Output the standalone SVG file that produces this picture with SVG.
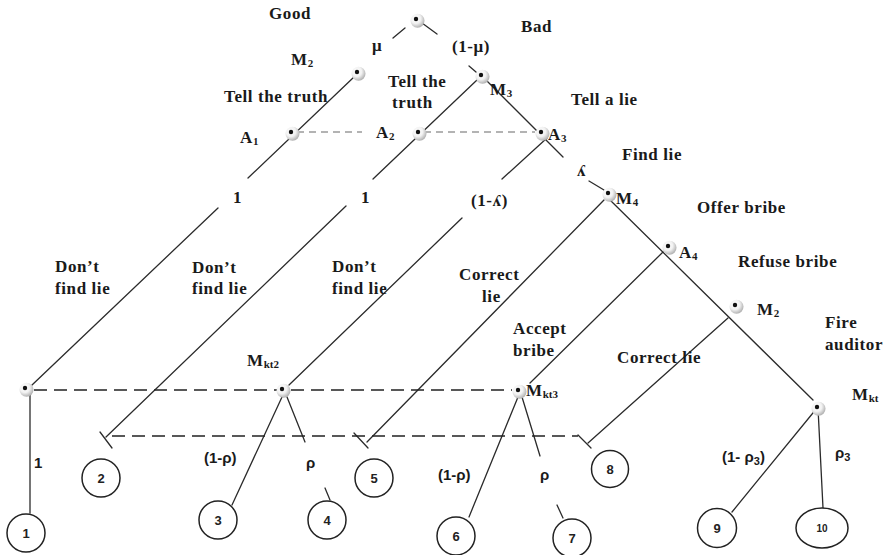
<svg xmlns="http://www.w3.org/2000/svg" width="889" height="555" viewBox="0 0 889 555">
  <style>
    .edge { stroke: #2b2b2b; stroke-width: 1.3; fill: none; stroke-linecap: round; }
    .info { stroke: #9a9a9a; stroke-width: 1.6; stroke-dasharray: 7 5; fill: none; }
    .info2 { stroke: #222; stroke-width: 1.6; stroke-dasharray: 13 7; fill: none; }
    .lbl { font-family: "Liberation Serif", "Times New Roman", serif; font-weight: bold; font-size: 17px; letter-spacing: 0.6px; fill: #1a1a1a; }
    .prob { font-family: "Liberation Sans", Arial, sans-serif; font-weight: bold; font-size: 15px; fill: #1a1a1a; }
    .leaf { fill: #fff; stroke: #222; stroke-width: 1.5; }
    .num { font-family: "Liberation Sans", Arial, sans-serif; font-weight: bold; font-size: 13px; fill: #222; text-anchor: middle; }
    .sub { font-size: 11px; letter-spacing: 0; }
  </style>
  <defs>
    <radialGradient id="halo" cx="0.38" cy="0.35" r="0.7">
      <stop offset="0" stop-color="#ffffff"/>
      <stop offset="0.5" stop-color="#f2f2f2"/>
      <stop offset="1" stop-color="#a9a9a9"/>
    </radialGradient>
    <g id="dot">
      <circle cx="1.5" cy="1.8" r="7" fill="url(#halo)"/>
      <circle cx="0" cy="0" r="2.2" fill="#111"/>
    </g>
  </defs>
  <rect width="889" height="555" fill="#fff"/>

  <!-- connectors -->
  <g id="connectors">
    <line class="edge" x1="393" y1="38" x2="405" y2="28"/>
    <line class="edge" x1="422" y1="23" x2="437" y2="34"/>
    <line class="edge" x1="469" y1="66" x2="476" y2="72"/>
    <line class="edge" x1="354" y1="77" x2="248" y2="178"/>
    <line class="edge" x1="218" y1="208" x2="32" y2="385"/>
    <line class="edge" x1="477" y1="80" x2="373" y2="179"/>
    <line class="edge" x1="346" y1="206" x2="106" y2="437"/>
    <line class="edge" x1="484" y1="78" x2="563" y2="157"/>
    <line class="edge" x1="589" y1="181" x2="604" y2="190"/>
    <line class="edge" x1="547" y1="138" x2="502" y2="179"/>
    <line class="edge" x1="462" y1="218" x2="289" y2="385"/>
    <line class="edge" x1="604" y1="200" x2="367" y2="442"/>
    <line class="edge" x1="610" y1="200" x2="813" y2="400"/>
    <line class="edge" x1="663" y1="252" x2="530" y2="383"/>
    <line class="edge" x1="728" y1="318" x2="588" y2="443"/>
    <line class="edge" x1="282" y1="397" x2="232" y2="505"/>
    <line class="edge" x1="287" y1="397" x2="305" y2="442"/>
    <line class="edge" x1="325" y1="488" x2="330" y2="500"/>
    <line class="edge" x1="518" y1="397" x2="469" y2="517"/>
    <line class="edge" x1="522" y1="397" x2="540" y2="456"/>
    <line class="edge" x1="557" y1="505" x2="563" y2="518"/>
    <line class="edge" x1="817" y1="408" x2="732" y2="512"/>
    <line class="edge" x1="818" y1="408" x2="823" y2="508"/>
    <line class="edge" x1="30" y1="395" x2="30" y2="513"/>
    <!-- end ticks -->
    <line class="edge" x1="100" y1="432" x2="112" y2="448"/>
    <line class="edge" x1="354" y1="433" x2="368" y2="448"/>
    <line class="edge" x1="578" y1="435" x2="591" y2="448"/>
    <!-- information sets -->
    <line class="info" x1="297" y1="132" x2="362" y2="132"/>
    <line class="info" x1="424" y1="132" x2="535" y2="132"/>
    <line class="info2" x1="34" y1="390" x2="277" y2="390"/>
    <line class="info2" x1="291" y1="390" x2="512" y2="390"/>
    <line class="info2" x1="112" y1="436" x2="578" y2="436"/>

    <!-- branch labels -->
    <text class="lbl" x="372" y="51">μ</text>
    <text class="lbl" x="452" y="52">(1-μ)</text>
    <text class="lbl" x="224" y="102">Tell the truth</text>
    <text class="lbl" x="388" y="87">Tell the</text>
    <text class="lbl" x="392" y="108">truth</text>
    <text class="lbl" x="571" y="105">Tell a lie</text>
    <text class="lbl" x="622" y="160">Find lie</text>
    <text class="lbl" x="577" y="176">ʎ</text>
    <text class="lbl" x="233" y="203">1</text>
    <text class="lbl" x="361" y="203">1</text>
    <text class="lbl" x="471" y="206">(1-ʎ)</text>
    <text class="lbl" x="697" y="213">Offer bribe</text>
    <text class="lbl" x="738" y="267">Refuse bribe</text>
    <text class="lbl" x="55" y="272">Don’t</text>
    <text class="lbl" x="55" y="294">find lie</text>
    <text class="lbl" x="192" y="273">Don’t</text>
    <text class="lbl" x="192" y="294">find lie</text>
    <text class="lbl" x="332" y="272">Don’t</text>
    <text class="lbl" x="332" y="294">find lie</text>
    <text class="lbl" x="459" y="280">Correct</text>
    <text class="lbl" x="482" y="302">lie</text>
    <text class="lbl" x="513" y="334">Accept</text>
    <text class="lbl" x="513" y="356">bribe</text>
    <text class="lbl" x="825" y="328">Fire</text>
    <text class="lbl" x="825" y="350">auditor</text>
    <text class="lbl" x="617" y="363">Correct lie</text>
    <text class="prob" x="34" y="468">1</text>
    <text class="prob" x="204" y="463">(1-ρ)</text>
    <text class="prob" x="306" y="468">ρ</text>
    <text class="prob" x="438" y="480">(1-ρ)</text>
    <text class="prob" x="540" y="480">ρ</text>
    <text class="prob" x="722" y="462">(1- ρ<tspan class="sub" dy="3">3</tspan><tspan dy="-3">)</tspan></text>
    <text class="prob" x="835" y="458">ρ<tspan class="sub" dy="3">3</tspan></text>
  </g>

  <!-- decision nodes -->
  <g id="root">
    <use href="#dot" x="416" y="19"/>
    <text class="lbl" x="269" y="19">Good</text>
    <text class="lbl" x="521" y="32">Bad</text>
  </g>
  <g id="m2">
    <use href="#dot" x="357" y="72"/>
    <text class="lbl" x="291" y="65">M<tspan class="sub" dy="2">2</tspan></text>
  </g>
  <g id="m3">
    <use href="#dot" x="481" y="75"/>
    <text class="lbl" x="490" y="95">M<tspan class="sub" dy="2">3</tspan></text>
  </g>
  <g id="a1">
    <use href="#dot" x="291" y="132"/>
    <text class="lbl" x="240" y="143">A<tspan class="sub" dy="2">1</tspan></text>
  </g>
  <g id="a2">
    <use href="#dot" x="418" y="132"/>
    <text class="lbl" x="376" y="138">A<tspan class="sub" dy="2">2</tspan></text>
  </g>
  <g id="a3">
    <use href="#dot" x="541" y="132"/>
    <text class="lbl" x="548" y="140">A<tspan class="sub" dy="2">3</tspan></text>
  </g>
  <g id="m4">
    <use href="#dot" x="608" y="193"/>
    <text class="lbl" x="616" y="204">M<tspan class="sub" dy="2">4</tspan></text>
  </g>
  <g id="a4">
    <use href="#dot" x="668" y="246"/>
    <text class="lbl" x="679" y="258">A<tspan class="sub" dy="2">4</tspan></text>
  </g>
  <g id="m2-after-refusal">
    <use href="#dot" x="735" y="305"/>
    <text class="lbl" x="757" y="315">M<tspan class="sub" dy="2">2</tspan></text>
  </g>
  <g id="auditor-left">
    <use href="#dot" x="25" y="388"/>
  </g>
  <g id="mkt2">
    <use href="#dot" x="282" y="389"/>
    <text class="lbl" x="247" y="366">M<tspan class="sub" dy="2">kt2</tspan></text>
  </g>
  <g id="mkt3">
    <use href="#dot" x="518" y="390"/>
    <text class="lbl" x="526" y="396">M<tspan class="sub" dy="2">kt3</tspan></text>
  </g>
  <g id="mkt">
    <use href="#dot" x="817" y="407"/>
    <text class="lbl" x="852" y="400">M<tspan class="sub" dy="2">kt</tspan></text>
  </g>

  <!-- outcomes -->
  <g id="leaf1"><circle class="leaf" cx="26" cy="533" r="19"/><text class="num" x="26" y="538">1</text></g>
  <g id="leaf2"><circle class="leaf" cx="101" cy="478" r="19"/><text class="num" x="101" y="483">2</text></g>
  <g id="leaf3"><circle class="leaf" cx="218" cy="520" r="19"/><text class="num" x="218" y="525">3</text></g>
  <g id="leaf4"><circle class="leaf" cx="327" cy="520" r="19"/><text class="num" x="327" y="525">4</text></g>
  <g id="leaf5"><circle class="leaf" cx="374" cy="478" r="19"/><text class="num" x="374" y="483">5</text></g>
  <g id="leaf6"><circle class="leaf" cx="456" cy="536" r="19"/><text class="num" x="456" y="541">6</text></g>
  <g id="leaf7"><circle class="leaf" cx="572" cy="538" r="19"/><text class="num" x="572" y="543">7</text></g>
  <g id="leaf8"><circle class="leaf" cx="610" cy="469" r="18.5"/><text class="num" x="610" y="474">8</text></g>
  <g id="leaf9"><circle class="leaf" cx="717" cy="528" r="19.5"/><text class="num" x="717" y="533">9</text></g>
  <g id="leaf10"><ellipse class="leaf" cx="822" cy="528" rx="26" ry="20"/><text class="num" x="822" y="532" style="font-size:10px">10</text></g>
</svg>
